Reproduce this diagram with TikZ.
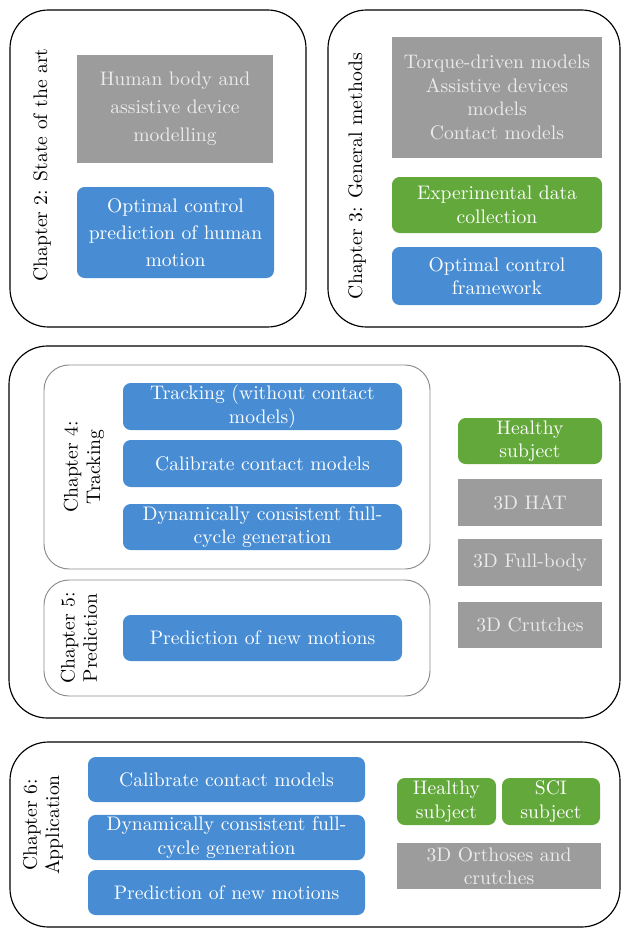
\documentclass[tikz,border=0pt]{standalone}
\usepackage{tikz}
\usepackage{xcolor}
\usetikzlibrary{positioning}

\definecolor{ocblue}{RGB}{72,141,211}
\definecolor{expgreen}{RGB}{98,168,58}
\definecolor{modgrey}{RGB}{156,156,156}
\newcommand{\pxu}{0.52pt}

\begin{document}
\begin{tikzpicture}[x=0.52pt, y=0.52pt,
    panel/.style={draw=black, line width=0.6pt, rounded corners=20pt},
    subpanel/.style={draw=black!45, line width=0.5pt, rounded corners=13pt},
    sz/.style 2 args={minimum width=#1*\pxu, minimum height=#2*\pxu, inner sep=1pt},
    txt/.style={align=center, font=\fontsize{10.2}{12.2}\selectfont},
    bluebox/.style={txt, fill=ocblue, rounded corners=4pt, text=white},
    greenbox/.style={txt, fill=expgreen, rounded corners=4pt, text=white},
    greybox/.style={txt, fill=modgrey, text=black!8},
    chap/.style={rotate=90, align=center, font=\fontsize{10.2}{11.6}\selectfont}]

    \useasboundingbox (0,0) rectangle (622,-929);

    % Chapter 2
    \draw[panel] (10,-10) rectangle (306,-327);
    \node[chap] (ch2) at (42,-165) {Chapter 2: State of the art};
    \node[greybox, sz={196}{108}, font=\fontsize{10.2}{14.6}\selectfont] (ch2model) at (175,-109)
        {Human body and\\assistive device\\modelling};
    \node[bluebox, sz={197}{91}, font=\fontsize{10.2}{14.2}\selectfont] (ch2ocp) at (175.5,-232.5)
        {Optimal control\\prediction of human\\motion};

    % Chapter 3
    \draw[panel] (328,-10) rectangle (620,-327);
    \node[chap] (ch3) at (357,-176) {Chapter 3: General methods};
    \node[greybox, sz={210}{121}] (ch3model) at (497,-97.5)
        {Torque-driven models\\Assistive devices\\models\\Contact models};
    \node[greenbox, sz={210}{56}] (ch3data) at (497,-205) {Experimental data\\collection};
    \node[bluebox, sz={210}{58}] (ch3ocp) at (497,-276) {Optimal control\\framework};

    % Chapters 4 and 5
    \draw[panel] (9,-346) rectangle (620,-718);
    \draw[subpanel] (44,-365) rectangle (430,-569);
    \draw[subpanel] (44,-580) rectangle (430,-696);
    \node[chap] (ch4) at (84,-467) {Chapter 4:\\Tracking};
    \node[chap] (ch5) at (79,-638) {Chapter 5:\\Prediction};
    \node[bluebox, sz={279}{47}] (ch4track) at (262.5,-406.5) {Tracking (without contact\\models)};
    \node[bluebox, sz={279}{47}] (ch4calib) at (262.5,-463.5) {Calibrate contact models};
    \node[bluebox, sz={279}{46}] (ch4cycle) at (262.5,-527) {Dynamically consistent full-\\cycle generation};
    \node[bluebox, sz={279}{46}] (ch5pred) at (262.5,-638) {Prediction of new motions};
    \node[greenbox, sz={144}{46}] (ch4healthy) at (530,-441) {Healthy\\subject};
    \node[greybox, sz={144}{47}] (ch4hat) at (530,-502.5) {3D HAT};
    \node[greybox, sz={144}{47}] (ch4full) at (530,-562.5) {3D Full-body};
    \node[greybox, sz={144}{46}] (ch4crutch) at (530,-624.5) {3D Crutches};

    % Chapter 6
    \draw[panel] (10,-742) rectangle (620,-927);
    \node[chap] (ch6) at (43,-825) {Chapter 6:\\Application};
    \node[bluebox, sz={277}{45}] (ch6calib) at (226.5,-779.5) {Calibrate contact models};
    \node[bluebox, sz={277}{45}] (ch6cycle) at (226.5,-837.5) {Dynamically consistent full-\\cycle generation};
    \node[bluebox, sz={277}{45}] (ch6pred) at (226.5,-892.5) {Prediction of new motions};
    \node[greenbox, sz={99}{47}] (ch6healthy) at (446.5,-801.5) {Healthy\\subject};
    \node[greenbox, sz={98}{47}] (ch6sci) at (551,-801.5) {SCI\\subject};
    \node[greybox, sz={204}{46}] (ch6orth) at (499,-866) {3D Orthoses and\\crutches};
\end{tikzpicture}
\end{document}
